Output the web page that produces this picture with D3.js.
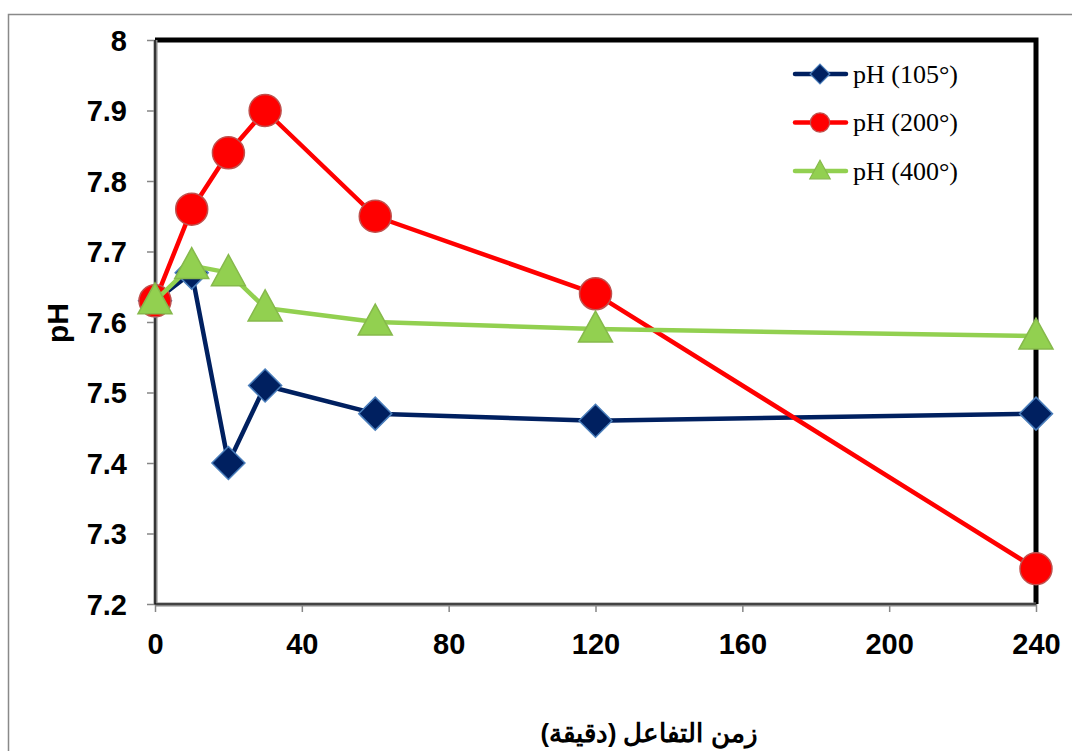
<!DOCTYPE html>
<html><head><meta charset="utf-8">
<script src="https://cdn.jsdelivr.net/npm/d3@7"></script>
<style>body{margin:0;background:#fff}svg{display:block}</style>
</head><body>
<svg id="c" width="1072" height="751"></svg>
<script>
const times = [0, 10, 20, 30, 60, 120, 240];
const ph105 = [7.63, 7.67, 7.40, 7.51, 7.47, 7.46, 7.47];
const ph200 = [7.63, 7.76, 7.84, 7.90, 7.75, 7.64, 7.25];
const ph400 = [7.63, 7.68, 7.67, 7.62, 7.60, 7.59, 7.58];
const xTicks = [0, 40, 80, 120, 160, 200, 240];
const yTicks = [7.2, 7.3, 7.4, 7.5, 7.6, 7.7, 7.8, 7.9, 8];
const seriesNames = ["pH (105°)", "pH (200°)", "pH (400°)"];
const xTitle = "زمن التفاعل (دقيقة)";
const yTitle = "pH";

const svg = d3.select("#c");
const L = 155, R = 1036, T = 40, B = 604;
const x = d3.scaleLinear().domain([0, 240]).range([L, R]);
const y = d3.scaleLinear().domain([7.2, 8]).range([B, T]);
const sans = "Liberation Sans, Arial, sans-serif";

// outer chart border
svg.append("rect").attr("x", 8.5).attr("y", 14.5).attr("width", 1080).attr("height", 760)
  .attr("fill", "none").attr("stroke", "#898989").attr("stroke-width", 1.5);

// plot frame: top and right black
svg.append("path").attr("d", `M${L},${T}H${R}V${B}`).attr("fill", "none")
  .attr("stroke", "#000").attr("stroke-width", 5);

// axes
const xAxis = d3.axisBottom(x).tickValues(xTicks).tickSize(8).tickFormat(d3.format("d"));
const yAxis = d3.axisLeft(y).tickValues(yTicks).tickSize(8).tickFormat(d => d === 8 ? "8" : d3.format(".1f")(d));
const gx = svg.append("g").attr("transform", `translate(0,${B})`).call(xAxis);
const gy = svg.append("g").attr("transform", `translate(${L},0)`).call(yAxis);
[gx, gy].forEach(g => {
  g.select(".domain").attr("stroke", "#868686").attr("stroke-width", 4);
  g.selectAll(".tick line").attr("stroke", "#868686").attr("stroke-width", 1.5);
  g.selectAll(".tick text").attr("fill", "#000").attr("font-family", sans)
    .attr("font-weight", "bold").attr("font-size", 29);
});
gx.select(".domain").attr("d", `M${L},0.5H${R}`);
gy.select(".domain").attr("d", `M0.5,${B}V${T}`);
gx.selectAll(".tick line").attr("y1", 0).attr("y2", 8);
gx.selectAll(".tick text").attr("dy", "0").attr("y", 50);
gy.selectAll(".tick text").attr("x", -28).attr("dy", "0.36em");
// inner black lines on left/bottom axis
svg.append("path").attr("d", `M${L},${T}V${B}H${R}`).attr("fill", "none").attr("stroke", "#000").attr("stroke-width", 1.2);

// titles
svg.append("text").attr("x", 649).attr("y", 742).attr("text-anchor", "middle")
  .attr("font-family", sans).attr("font-weight", "bold").attr("font-size", 25.5)
  .attr("direction", "rtl").text(xTitle);
svg.append("text").attr("transform", "translate(68,323) rotate(-90)").attr("text-anchor", "middle")
  .attr("font-family", sans).attr("font-weight", "bold").attr("font-size", 30)
  .text(yTitle);

const series = [
  {name: seriesNames[0], vals: ph105, color: "#002060", fill: "#002060", stroke: "#4a7ebb", shape: "diamond"},
  {name: seriesNames[1], vals: ph200, color: "#ff0000", fill: "#ff0000", stroke: "#c0504d", shape: "circle"},
  {name: seriesNames[2], vals: ph400, color: "#92d050", fill: "#92d050", stroke: "#86b94b", shape: "triangle"}
];
const line = d3.line().x(d => x(d[0])).y(d => y(d[1]));

function marker(g, shape, cx, cy, s) {
  if (shape === "diamond") {
    const r = 16.5 * s;
    return g.append("path").attr("d", `M${cx},${cy - r}L${cx + r},${cy}L${cx},${cy + r}L${cx - r},${cy}Z`);
  } else if (shape === "circle") {
    return g.append("circle").attr("cx", cx).attr("cy", cy).attr("r", 16 * s);
  } else {
    const w = 17 * s, h = 31 * s;
    return g.append("path").attr("d", `M${cx},${cy - h * 0.58}L${cx + w},${cy + h * 0.42}L${cx - w},${cy + h * 0.42}Z`);
  }
}

series.forEach(sr => {
  const pts = times.map((t, i) => [t, sr.vals[i]]);
  svg.append("path").datum(pts).attr("d", line).attr("fill", "none")
    .attr("stroke", sr.color).attr("stroke-width", 4.5).attr("stroke-linejoin", "round");
  const g = svg.append("g");
  pts.forEach(p => marker(g, sr.shape, x(p[0]), y(p[1]), 1)
    .attr("fill", sr.fill).attr("stroke", sr.stroke).attr("stroke-width", 1.5));
});

// legend
series.forEach((sr, i) => {
  const ly = 74 + i * 48.5;
  svg.append("line").attr("x1", 795).attr("x2", 846).attr("y1", ly).attr("y2", ly)
    .attr("stroke", sr.color).attr("stroke-width", 4.5).attr("stroke-linecap", "round");
  const g = svg.append("g");
  marker(g, sr.shape, 820, ly, 0.6).attr("fill", sr.fill).attr("stroke", sr.stroke).attr("stroke-width", 1.2);
  svg.append("text").attr("x", 853).attr("y", ly).attr("dy", "0.33em")
    .attr("font-family", "Liberation Serif, Times New Roman, serif").attr("font-size", 26)
    .attr("fill", "#000").text(sr.name);
});
</script>
</body></html>
